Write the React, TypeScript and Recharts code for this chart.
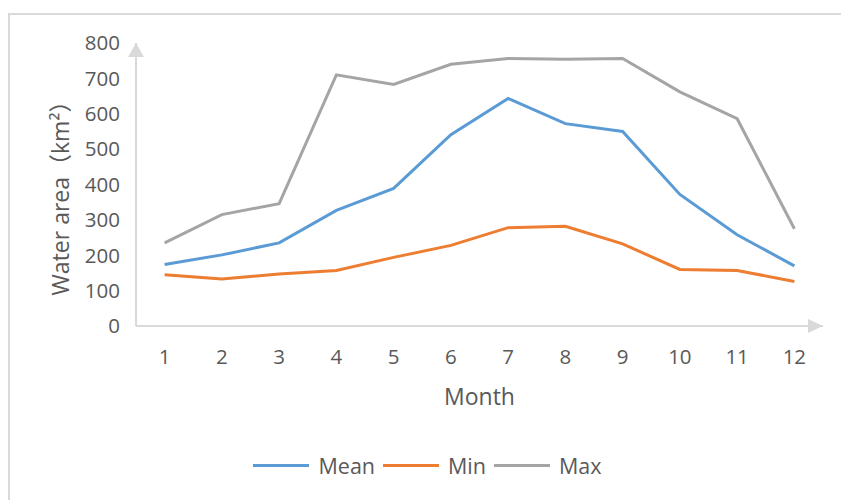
import { LineChart, Line, XAxis, YAxis, Legend, ReferenceDot, Label } from 'recharts';

const months = [1, 2, 3, 4, 5, 6, 7, 8, 9, 10, 11, 12];
const meanArea = [174, 201, 235, 327, 389, 541, 643, 572, 550, 372, 258, 170];
const minArea = [145, 133, 147, 157, 194, 228, 278, 282, 232, 160, 157, 126];
const maxArea = [235, 315, 346, 710, 683, 740, 756, 754, 756, 662, 586, 275];
const yTicks = [0, 100, 200, 300, 400, 500, 600, 700, 800];

const FONT = '"Open Sans", "Noto Sans CJK SC", sans-serif';
const TEXT = '#595959';
const AXIS = '#d9d9d9';

const data = months.map((m, i) => ({
  month: m,
  Mean: meanArea[i],
  Min: minArea[i],
  Max: maxArea[i],
}));

const UpArrow = ({ cx, cy }: any) => (
  <polygon points={`${cx},${cy} ${cx - 8},${cy + 14} ${cx + 8},${cy + 14}`} fill={AXIS} />
);

const RightArrow = ({ cx, cy }: any) => (
  <polygon points={`${cx},${cy} ${cx - 15},${cy - 7} ${cx - 15},${cy + 7}`} fill={AXIS} />
);

const YTitle = ({ viewBox }: any) => {
  const x = 60;
  const y = viewBox.y + viewBox.height / 2 + 8;
  return (
    <text
      x={x}
      y={y}
      transform={`rotate(-90 ${x} ${y})`}
      textAnchor="middle"
      dominantBaseline="central"
      fill={TEXT}
      fontSize={23}
      fontFamily={FONT}
    >
      Water area（km²）
    </text>
  );
};

const LegendContent = () => {
  const items = [
    { name: 'Mean', color: '#5b9bd5' },
    { name: 'Min', color: '#ed7d31' },
    { name: 'Max', color: '#a5a5a5' },
  ];
  return (
    <div
      style={{
        display: 'flex',
        justifyContent: 'center',
        alignItems: 'center',
        fontFamily: FONT,
        marginLeft: 40,
      }}
    >
      {items.map((it) => (
        <div key={it.name} style={{ display: 'flex', alignItems: 'center', marginRight: 8 }}>
          <span style={{ display: 'inline-block', width: 56, height: 3, background: it.color, marginRight: 9 }} />
          <span style={{ fontSize: 21.5, color: TEXT }}>{it.name}</span>
        </div>
      ))}
    </div>
  );
};

export default function App() {
  return (
    <div
      style={{
        position: 'fixed',
        left: 0,
        top: 0,
        width: 841,
        height: 500,
        overflow: 'hidden',
        background: '#fff',
      }}
    >
      <div
        style={{
          position: 'absolute',
          left: 8,
          top: 13,
          width: 900,
          height: 600,
          border: `2px solid ${AXIS}`,
          boxSizing: 'border-box',
        }}
      />
      <div style={{ position: 'absolute', left: 0, top: 0 }}>
        <LineChart width={841} height={500} data={data} margin={{ top: 43, right: 18, bottom: 0, left: 0 }}>
          <XAxis
            dataKey="month"
            type="number"
            domain={[0.5, 12.5]}
            ticks={months}
            tickLine={false}
            tickSize={0}
            tickMargin={23}
            height={134}
            axisLine={{ stroke: AXIS, strokeWidth: 2 }}
            tick={{ fill: TEXT, fontSize: 20.5, fontFamily: FONT }}
            interval={0}
          >
            <Label
              value="Month"
              position="insideTop"
              offset={63}
              fill={TEXT}
              fontSize={23}
              fontFamily={FONT}
            />
          </XAxis>
          <YAxis
            type="number"
            domain={[0, 800]}
            ticks={yTicks}
            width={136}
            tickLine={false}
            tickSize={0}
            tickMargin={16}
            axisLine={{ stroke: AXIS, strokeWidth: 2 }}
            tick={{ fill: TEXT, fontSize: 20.5, fontFamily: FONT }}
            interval={0}
          >
            <Label content={<YTitle />} />
          </YAxis>
          <Line dataKey="Mean" stroke="#5b9bd5" strokeWidth={3} dot={false} isAnimationActive={false} />
          <Line dataKey="Min" stroke="#ed7d31" strokeWidth={3} dot={false} isAnimationActive={false} />
          <Line dataKey="Max" stroke="#a5a5a5" strokeWidth={3} dot={false} isAnimationActive={false} />
          <ReferenceDot x={0.5} y={800} ifOverflow="visible" shape={<UpArrow />} />
          <ReferenceDot x={12.5} y={0} ifOverflow="visible" shape={<RightArrow />} />
          <Legend verticalAlign="bottom" height={40} content={<LegendContent />} wrapperStyle={{ top: 451 }} />
        </LineChart>
      </div>
    </div>
  );
}
